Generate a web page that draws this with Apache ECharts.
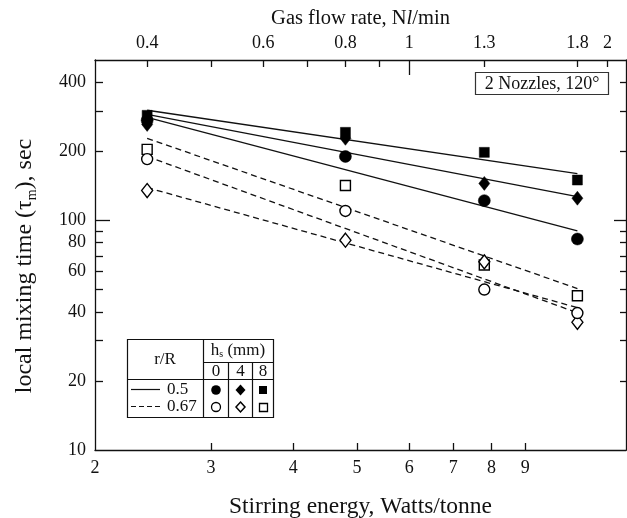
<!DOCTYPE html>
<html><head><meta charset="utf-8">
<script src="https://cdn.jsdelivr.net/npm/echarts@6/dist/echarts.min.js"></script>
<style>html,body{margin:0;padding:0;background:#fff}#c{width:627px;height:518px}</style>
</head><body><div id="c"></div>
<script>
// Stirring energy (W/t) of the four runs (gas flow 0.4, 0.8, 1.3, 1.8 Nl/min)
const energy = [2.4, 4.8, 7.8, 10.8];
// measured local mixing times, s
const r05_h0 = [273, 190, 122, 83];
const r05_h4 = [262, 228, 145, 125];
const r05_h8 = [287, 242, 198, 150];
const r067_h0 = [185, 110, 50, 39.5];
const r067_h4 = [135, 82, 66, 36];
const r067_h8 = [204, 142, 64, 47];
// fitted lines, values at first and last energy
const fitX = [2.4, 10.8];
const fit05_h0 = [281, 90];
const fit05_h4 = [290, 127];
const fit05_h8 = [302, 160];
const fit067_h0 = [190, 39.6];
const fit067_h4 = [139, 41.7];
const fit067_h8 = [228, 50.5];
// axis ticks
const xRange = [2, 12.8];
const xTicks = [3, 4, 5, 6, 7, 8, 9];
const xLabels = [2, 3, 4, 5, 6, 7, 8, 9];
const flowPerEnergy = 1 / 6;
const flowTicks = [0.4, 0.5, 0.6, 0.7, 0.8, 0.9, 1.3, 1.8, 2];
const flowMajor = [1];
const flowLabels = [0.4, 0.6, 0.8, 1, 1.3, 1.8, 2];
const yRange = [10, 500];
const yTicks = [20, 30, 40, 50, 60, 70, 80, 90, 200, 300, 400];
const yMajor = [100];
const yLabels = [10, 20, 40, 60, 80, 100, 200, 400];

const FONT = 'Liberation Serif';
const BLACK = '#000';
const chart = echarts.init(document.getElementById('c'), null, {renderer: 'canvas'});
const pair = (xs, ys) => xs.map((x, i) => [x, ys[i]]);
const fmt = v => String(+(+v).toPrecision(3));
const lineStyle = {color: '#111', width: 1.3};
const labelStyle = {color: '#111', fontFamily: FONT, fontSize: 18};

function axisDef(o) {
  return Object.assign({
    type: 'log', logBase: 10, splitLine: {show: false},
    axisLine: {show: true, lineStyle: lineStyle},
    axisTick: {show: true, inside: true, length: 7, lineStyle: lineStyle},
    axisLabel: {show: false}, minorTick: {show: false}
  }, o);
}

const markerBase = (symbol, size, filled) => ({
  type: 'scatter', xAxisIndex: 0, yAxisIndex: 0, symbol: symbol, symbolSize: size, z: 5,
  itemStyle: filled ? {color: BLACK, borderColor: BLACK, borderWidth: 0.5, opacity: 1}
                    : {color: '#fff', borderColor: BLACK, borderWidth: 1.4, opacity: 1}
});
const fitLine = (ys, dashed) => ({
  type: 'line', xAxisIndex: 0, yAxisIndex: 0, data: pair(fitX, ys), symbol: 'none', z: 3,
  lineStyle: {color: '#111', width: 1.3, type: dashed ? [6, 4] : 'solid'}, silent: true
});

const gridBox = {left: 95, top: 60, right: 1, bottom: 68, show: false, containLabel: false, outerBoundsMode: 'none'};
const option = {
  animation: false,
  backgroundColor: '#fff',
  grid: [Object.assign({}, gridBox), Object.assign({}, gridBox)],
  xAxis: [
    axisDef({gridIndex: 0, position: 'bottom', min: xRange[0], max: xRange[1],
      axisTick: {show: true, inside: true, length: 7, lineStyle: lineStyle, customValues: xTicks},
      axisLabel: Object.assign({show: true, margin: 9, customValues: xLabels, formatter: fmt}, labelStyle),
      name: 'Stirring energy, Watts/tonne', nameLocation: 'middle', nameGap: 45,
      nameTextStyle: {color: '#111', fontFamily: FONT, fontSize: 23.5}}),
    axisDef({gridIndex: 0, position: 'top', min: xRange[0] * flowPerEnergy, max: xRange[1] * flowPerEnergy,
      axisTick: {show: true, inside: true, length: 7, lineStyle: lineStyle, customValues: flowTicks},
      axisLabel: Object.assign({show: true, margin: 8, customValues: flowLabels, formatter: fmt}, labelStyle),
      name: 'Gas flow rate, N{i|l}/min', nameLocation: 'middle', nameGap: 31,
      nameTextStyle: {color: '#111', fontFamily: FONT, fontSize: 20.5,
        rich: {i: {fontStyle: 'italic', fontFamily: FONT, fontSize: 20.5, color: '#111'}}}}),
    axisDef({gridIndex: 1, position: 'top', min: xRange[0] * flowPerEnergy, max: xRange[1] * flowPerEnergy,
      axisLine: {show: false},
      axisTick: {show: true, inside: true, length: 15, lineStyle: lineStyle, customValues: flowMajor}})
  ],
  yAxis: [
    axisDef({gridIndex: 0, position: 'left', min: yRange[0], max: yRange[1],
      axisTick: {show: true, inside: true, length: 8, lineStyle: lineStyle, customValues: yTicks},
      axisLabel: Object.assign({show: true, margin: 9, customValues: yLabels, formatter: fmt}, labelStyle),
      name: 'local mixing time (τ{sub|m}), sec', nameLocation: 'middle', nameGap: 56,
      nameTextStyle: {color: '#111', fontFamily: FONT, fontSize: 24, lineHeight: 28, padding: [0, 22, 0, 0],
        rich: {sub: {fontSize: 14, fontFamily: FONT, color: '#111', lineHeight: 14, verticalAlign: 'bottom'}}}}),
    axisDef({gridIndex: 0, position: 'right', min: yRange[0], max: yRange[1],
      axisTick: {show: true, inside: true, length: 6, lineStyle: lineStyle, customValues: yTicks}}),
    axisDef({gridIndex: 1, position: 'left', min: yRange[0], max: yRange[1], axisLine: {show: false},
      axisTick: {show: true, inside: true, length: 15, lineStyle: lineStyle, customValues: yMajor}}),
    axisDef({gridIndex: 1, position: 'right', min: yRange[0], max: yRange[1], axisLine: {show: false},
      axisTick: {show: true, inside: true, length: 12, lineStyle: lineStyle, customValues: yMajor}})
  ],
  series: [
    fitLine(fit05_h8, false), fitLine(fit05_h4, false), fitLine(fit05_h0, false),
    fitLine(fit067_h8, true), fitLine(fit067_h0, true), fitLine(fit067_h4, true),
    Object.assign(markerBase('rect', 10, true), {data: pair(energy, r05_h8)}),
    Object.assign(markerBase('diamond', [11, 14], true), {data: pair(energy, r05_h4)}),
    Object.assign(markerBase('circle', 12, true), {data: pair(energy, r05_h0)}),
    Object.assign(markerBase('rect', 10, false), {data: pair(energy, r067_h8)}),
    Object.assign(markerBase('diamond', [11, 14], false), {data: pair(energy, r067_h4)}),
    Object.assign(markerBase('circle', 11, false), {data: pair(energy, r067_h0)})
  ],
  graphic: [
    // annotation box
    {type: 'rect', shape: {x: 475.5, y: 72.5, width: 133, height: 22}, style: {fill: '#fff', stroke: '#333', lineWidth: 1.2}, z: 10},
    {type: 'text', x: 542, y: 84, style: {text: '2 Nozzles, 120°', fontFamily: FONT, fontSize: 18, fill: '#111', align: 'center', verticalAlign: 'middle'}, z: 11},
    // legend table
    {type: 'rect', shape: {x: 127.5, y: 339.5, width: 146, height: 78}, style: {fill: '#fff', stroke: '#111', lineWidth: 1.2}, z: 10},
    {type: 'line', shape: {x1: 203.5, y1: 339.5, x2: 203.5, y2: 417.5}, style: {stroke: '#111', lineWidth: 1.2}, z: 11},
    {type: 'line', shape: {x1: 203.5, y1: 362.5, x2: 273.5, y2: 362.5}, style: {stroke: '#111', lineWidth: 1.2}, z: 11},
    {type: 'line', shape: {x1: 127.5, y1: 379.5, x2: 273.5, y2: 379.5}, style: {stroke: '#111', lineWidth: 1.2}, z: 11},
    {type: 'line', shape: {x1: 228.5, y1: 362.5, x2: 228.5, y2: 417.5}, style: {stroke: '#111', lineWidth: 1.2}, z: 11},
    {type: 'line', shape: {x1: 252.5, y1: 362.5, x2: 252.5, y2: 417.5}, style: {stroke: '#111', lineWidth: 1.2}, z: 11},
    {type: 'text', x: 165, y: 360, style: {text: 'r/R', fontFamily: FONT, fontSize: 17, fill: '#111', align: 'center', verticalAlign: 'middle'}, z: 11},
    {type: 'text', x: 238, y: 351, style: {text: 'h{s|s} (mm)', fontFamily: FONT, fontSize: 17, fill: '#111', align: 'center', verticalAlign: 'middle',
      rich: {s: {fontSize: 10, fontFamily: FONT, fill: '#111', padding: [7, 0, 0, 0]}}}, z: 11},
    {type: 'text', x: 216, y: 372, style: {text: '0', fontFamily: FONT, fontSize: 17, fill: '#111', align: 'center', verticalAlign: 'middle'}, z: 11},
    {type: 'text', x: 240.5, y: 372, style: {text: '4', fontFamily: FONT, fontSize: 17, fill: '#111', align: 'center', verticalAlign: 'middle'}, z: 11},
    {type: 'text', x: 263, y: 372, style: {text: '8', fontFamily: FONT, fontSize: 17, fill: '#111', align: 'center', verticalAlign: 'middle'}, z: 11},
    {type: 'line', shape: {x1: 131, y1: 389.5, x2: 160, y2: 389.5}, style: {stroke: '#111', lineWidth: 1.2}, z: 11},
    {type: 'line', shape: {x1: 131, y1: 406.5, x2: 162, y2: 406.5}, style: {stroke: '#111', lineWidth: 1.2, lineDash: [5, 3]}, z: 11},
    {type: 'text', x: 167, y: 390, style: {text: '0.5', fontFamily: FONT, fontSize: 17, fill: '#111', align: 'left', verticalAlign: 'middle'}, z: 11},
    {type: 'text', x: 167, y: 407, style: {text: '0.67', fontFamily: FONT, fontSize: 17, fill: '#111', align: 'left', verticalAlign: 'middle'}, z: 11},
    {type: 'circle', shape: {cx: 216, cy: 390, r: 4.8}, style: {fill: BLACK}, z: 11},
    {type: 'polygon', shape: {points: [[240.5, 384.5], [245.5, 390], [240.5, 395.5], [235.5, 390]]}, style: {fill: BLACK}, z: 11},
    {type: 'rect', shape: {x: 259, y: 386, width: 8, height: 8}, style: {fill: BLACK}, z: 11},
    {type: 'circle', shape: {cx: 216, cy: 407, r: 4.5}, style: {fill: '#fff', stroke: BLACK, lineWidth: 1.3}, z: 11},
    {type: 'polygon', shape: {points: [[240.5, 402], [245, 407], [240.5, 412], [236, 407]]}, style: {fill: '#fff', stroke: BLACK, lineWidth: 1.5}, z: 11},
    {type: 'rect', shape: {x: 259.5, y: 403.5, width: 8, height: 8}, style: {fill: '#fff', stroke: BLACK, lineWidth: 1.3}, z: 11}
  ]
};
chart.setOption(option);
</script>
</body></html>
